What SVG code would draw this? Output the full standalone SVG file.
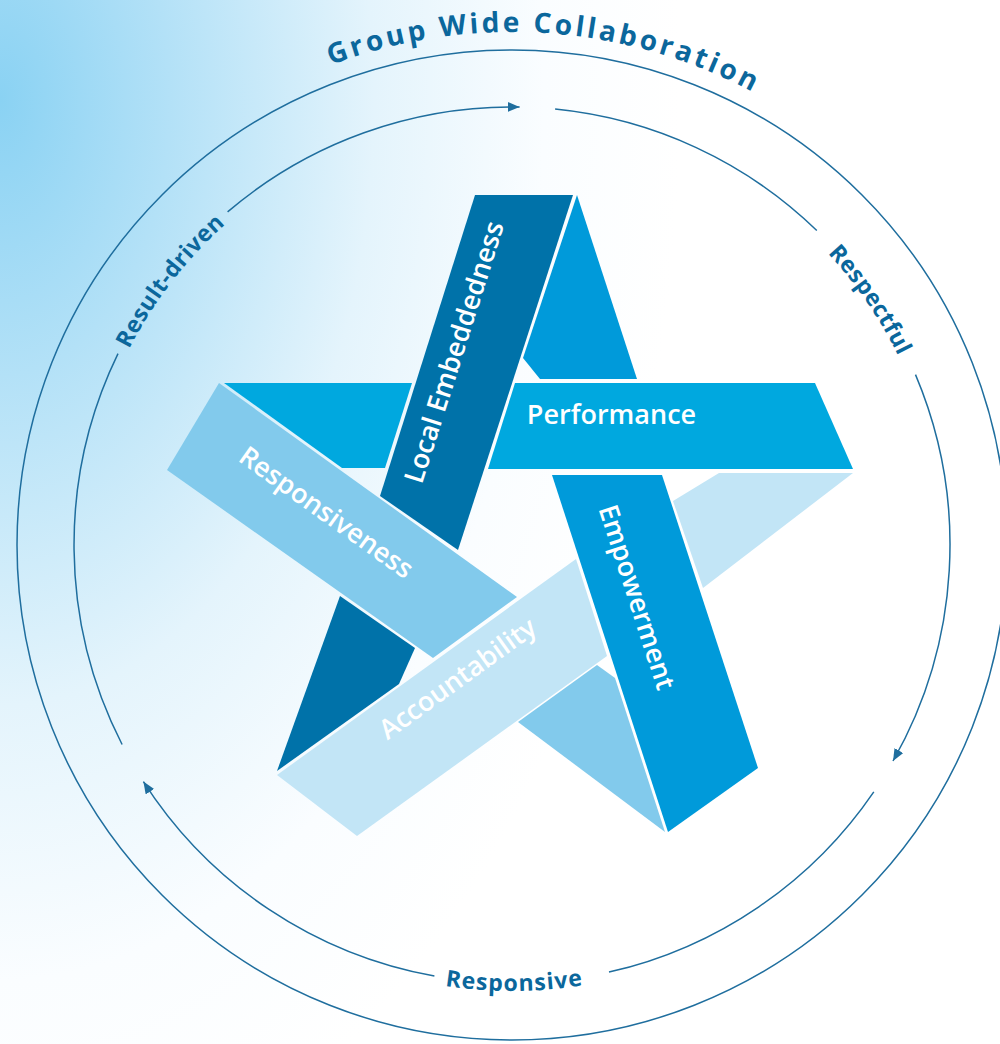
<svg xmlns="http://www.w3.org/2000/svg" width="1000" height="1044" viewBox="0 0 1000 1044">
<defs>
  <radialGradient id="bg" gradientUnits="userSpaceOnUse" cx="0" cy="0" r="1" gradientTransform="translate(0,100) scale(680,1100)">
    <stop offset="0" stop-color="#8AD2F3"/>
    <stop offset="0.25" stop-color="#B3E1F7"/>
    <stop offset="0.55" stop-color="#E4F4FC"/>
    <stop offset="0.8" stop-color="#FAFDFF"/>
    <stop offset="1" stop-color="#FFFFFF"/>
  </radialGradient>
  <marker id="arr" markerUnits="userSpaceOnUse" markerWidth="13" markerHeight="11" refX="12" refY="5" orient="auto">
    <path d="M0,0 L12,5 L0,10 Z" fill="#1F6E9E"/>
  </marker>
  <path id="p-title" d="M 42.6 338 A 513 513 0 0 1 1004.6 401.9"/>
  <path id="p-result" d="M 148.5 774.8 A 430 430 0 0 1 642.7 135.3"/>
  <path id="p-respectful" d="M 405.1 128.5 A 430 430 0 0 1 861.6 795.3"/>
  <path id="p-responsive" d="M 93.7 699.7 A 446 446 0 0 0 931.9 695.3"/>
</defs>
<style>
  .ring{fill:none;stroke:#1F6E9E;stroke-width:1.5}
  .lbl{font-family:'Open Sans','Liberation Sans',sans-serif;font-weight:700;fill:#0B679C}
  .bt{font-family:'Open Sans','Liberation Sans',sans-serif;font-weight:600;fill:#FFFFFF;font-size:27px;text-anchor:middle}
  .dark{fill:#0072A9}
  .emp{fill:#009ADA}
  .perf{fill:#00A8DF}
  .resp{fill:#82CAEC}
  .acc{fill:#C2E5F6}
</style>
<rect x="0" y="0" width="1000" height="1044" fill="url(#bg)"/>

<g id="outer-ring">
  <circle class="ring" cx="512" cy="545" r="495"/>
  <text class="lbl" font-size="28" letter-spacing="3.2"><textPath href="#p-title" startOffset="50%" text-anchor="middle">Group Wide Collaboration</textPath></text>
</g>

<g id="connectors">
  <path class="ring" d="M 227.6 211.9 A 438 438 0 0 1 519.6 107.1" marker-end="url(#arr)"/>
  <path class="ring" d="M 555.1 109.1 A 438 438 0 0 1 816.8 230.5"/>
  <path class="ring" d="M 915.5 374.6 A 438 438 0 0 1 893.0 761.0" marker-end="url(#arr)"/>
  <path class="ring" d="M 873.8 791.8 A 438 438 0 0 1 609.0 972.1"/>
  <path class="ring" d="M 434.4 976.1 A 438 438 0 0 1 143.4 781.6" marker-end="url(#arr)"/>
  <path class="ring" d="M 122.1 744.5 A 438 438 0 0 1 118.0 353.7"/>
</g>

<g id="ring-labels">
  <text class="lbl" font-size="23" letter-spacing="0.4"><textPath href="#p-result" startOffset="50%" text-anchor="middle">Result-driven</textPath></text>
  <text class="lbl" font-size="23" letter-spacing="0.4"><textPath href="#p-respectful" startOffset="50%" text-anchor="middle">Respectful</textPath></text>
  <text class="lbl" font-size="23" letter-spacing="1"><textPath href="#p-responsive" startOffset="50%" text-anchor="middle">Responsive</textPath></text>
</g>

<g id="band-empowerment">
  <polygon class="emp" points="577,195 637,379 540,379 523,358"/>
  <polygon class="emp" points="552,475 662,475 758,768 668,832"/>
  <text class="bt" transform="translate(628,600) rotate(72)">Empowerment</text>
</g>

<g id="band-performance">
  <polygon class="perf" points="224,383 412,383 385,468 342,468"/>
  <polygon class="perf" points="515,383 815,383 853,469 488,469"/>
  <text class="bt" x="611.5" y="424">Performance</text>
</g>

<g id="band-local-embeddedness">
  <polygon class="dark" points="475,195 573,195 458,550 380,496"/>
  <polygon class="dark" points="340,596 415,648 399,684 277,771"/>
  <text class="bt" transform="translate(463,355) rotate(-72.4)">Local Embeddedness</text>
</g>

<g id="band-responsiveness">
  <polygon class="resp" points="219,383 517,597 433,658 167,470"/>
  <polygon class="resp" points="518,722 597,665 615,678 665,832"/>
  <text class="bt" transform="translate(321,520) rotate(35.4)">Responsiveness</text>
</g>

<g id="band-accountability">
  <polygon class="acc" points="277,775 576,559 607,656 357,836"/>
  <polygon class="acc" points="673,501 719,473 853,473 703,588"/>
  <text class="bt" transform="translate(463,686) rotate(-35.8)">Accountability</text>
</g>
</svg>
